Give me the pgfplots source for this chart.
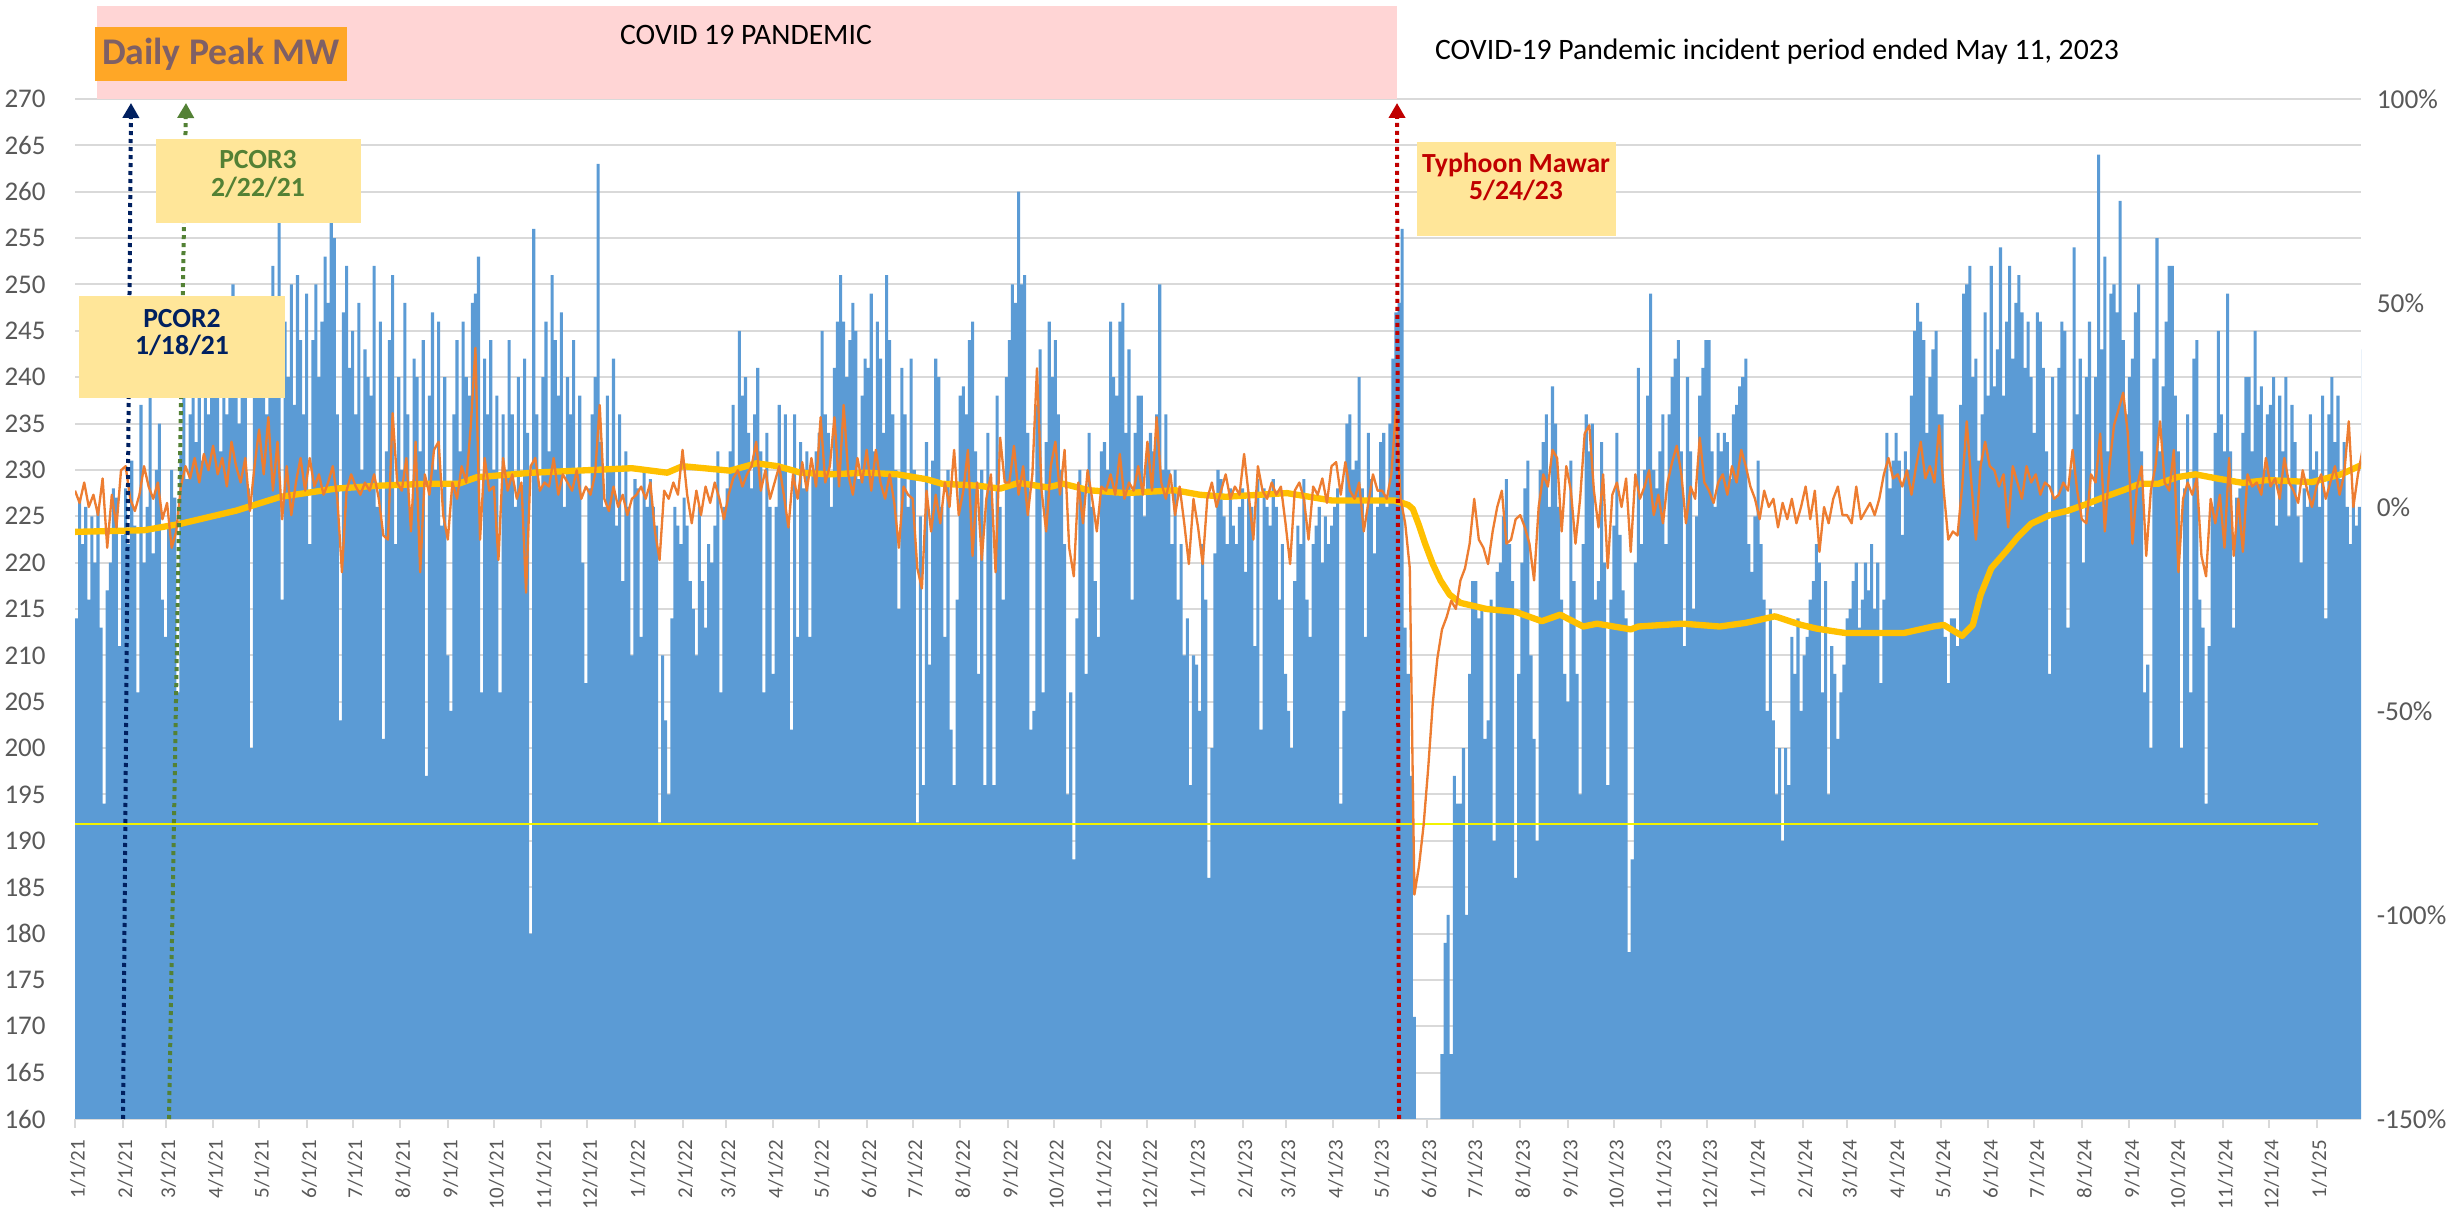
\documentclass[border=0pt]{standalone}
\usepackage{fontspec}
\setmainfont{Carlito}
\usepackage{pgfplots}
\pgfplotsset{compat=1.18}
\usetikzlibrary{arrows.meta}
\definecolor{barblue}{HTML}{5B9BD5}
\definecolor{lineorange}{HTML}{ED7D31}
\definecolor{avgyellow}{HTML}{FFC000}
\definecolor{thinyellow}{HTML}{F2F200}
\definecolor{gridgray}{HTML}{D9D9D9}
\definecolor{labelgray}{HTML}{595959}
\definecolor{pinkbg}{HTML}{FFD5D5}
\definecolor{orangebox}{HTML}{FFA726}
\definecolor{mauve}{HTML}{7F6065}
\definecolor{notebox}{HTML}{FFE699}
\definecolor{navy}{HTML}{002060}
\definecolor{dgreen}{HTML}{538135}
\definecolor{dred}{HTML}{C00000}
\begin{document}
\begin{tikzpicture}[x=1pt,y=1pt]
\path[use as bounding box] (0,0) rectangle (737.7,363);
\begin{axis}[
  at={(22.5pt,27.3pt)}, anchor=south west, scale only axis,
  width=685.8pt, height=306pt,
  xmin=0, xmax=1490, ymin=160, ymax=270,
  axis x line*=bottom, axis y line*=left,
  y axis line style={draw=none},
  x axis line style={draw=gridgray, line width=0.6pt},
  ytick={160,165,...,270}, ytick style={draw=none},
  ymajorgrids=true, major grid style={draw=gridgray, line width=0.6pt},
  xtick={0,31,59,90,120,151,181,212,243,273,304,334,365,396,424,455,485,516,546,577,608,638,669,699,730,761,789,820,850,881,911,942,973,1003,1034,1064,1095,1126,1155,1186,1216,1247,1277,1308,1339,1369,1400,1430,1461},
  xticklabels={1/1/21,2/1/21,3/1/21,4/1/21,5/1/21,6/1/21,7/1/21,8/1/21,9/1/21,10/1/21,11/1/21,12/1/21,1/1/22,2/1/22,3/1/22,4/1/22,5/1/22,6/1/22,7/1/22,8/1/22,9/1/22,10/1/22,11/1/22,12/1/22,1/1/23,2/1/23,3/1/23,4/1/23,5/1/23,6/1/23,7/1/23,8/1/23,9/1/23,10/1/23,11/1/23,12/1/23,1/1/24,2/1/24,3/1/24,4/1/24,5/1/24,6/1/24,7/1/24,8/1/24,9/1/24,10/1/24,11/1/24,12/1/24,1/1/25},
  xtick style={draw=gridgray, line width=0.6pt},
  tick align=outside, major tick length=2.7pt,
  xticklabel style={rotate=90, anchor=east, yshift=-0.8pt, font=\fontsize{6.3}{7}\selectfont, text=labelgray},
  yticklabel style={font=\fontsize{8.1}{9}\selectfont, text=labelgray, xshift=-2.6pt},
  /pgf/number format/assume math mode=true,
]
\addplot[draw=none, fill=barblue, const plot] table[row sep=\\, x expr=2*\coordindex, y=v] {v\\
214\\227\\222\\226\\216\\225\\220\\226\\213\\194\\217\\220\\228\\227\\211\\223\\
228\\222\\231\\224\\206\\237\\220\\226\\238\\221\\230\\235\\216\\212\\
224\\230\\227\\206\\232\\238\\229\\236\\240\\233\\244\\231\\240\\236\\243\\
238\\245\\232\\241\\236\\247\\250\\242\\235\\246\\240\\228\\200\\244\\238\\
241\\248\\236\\244\\252\\238\\263\\216\\246\\240\\250\\237\\251\\244\\236\\249\\
222\\244\\250\\240\\246\\253\\248\\258\\255\\236\\203\\247\\252\\241\\245\\
236\\248\\230\\243\\240\\238\\252\\226\\246\\201\\232\\244\\251\\222\\240\\
230\\248\\236\\226\\242\\240\\232\\244\\197\\238\\247\\230\\246\\224\\240\\210\\
204\\236\\244\\232\\246\\240\\238\\248\\249\\253\\206\\242\\236\\244\\230\\
238\\206\\236\\230\\244\\236\\226\\240\\228\\242\\234\\180\\256\\236\\228\\
240\\246\\232\\251\\244\\238\\247\\226\\240\\236\\244\\230\\238\\220\\207\\
228\\236\\240\\263\\233\\226\\238\\230\\242\\224\\236\\218\\232\\226\\210\\229\\
228\\212\\230\\226\\229\\226\\224\\192\\210\\203\\195\\214\\226\\224\\222\\
227\\224\\218\\215\\210\\226\\218\\213\\222\\220\\224\\232\\206\\226\\
228\\232\\237\\230\\245\\238\\240\\234\\228\\236\\241\\232\\206\\234\\226\\208\\
226\\237\\230\\236\\224\\202\\236\\212\\233\\228\\232\\212\\230\\232\\234\\
245\\236\\234\\226\\241\\246\\251\\246\\240\\244\\248\\245\\229\\238\\242\\
241\\249\\232\\246\\242\\234\\251\\244\\236\\230\\215\\241\\236\\226\\242\\
230\\192\\225\\196\\233\\209\\231\\242\\240\\226\\212\\230\\202\\196\\216\\238\\
239\\236\\244\\246\\232\\208\\230\\196\\234\\228\\196\\238\\226\\216\\240\\
244\\250\\248\\260\\250\\251\\234\\202\\204\\237\\243\\206\\233\\246\\240\\
244\\236\\230\\222\\195\\206\\188\\214\\230\\228\\208\\234\\226\\218\\212\\232\\
233\\230\\246\\240\\238\\246\\248\\234\\243\\216\\234\\238\\238\\225\\232\\
234\\232\\236\\250\\230\\236\\230\\222\\230\\216\\222\\210\\214\\196\\210\\
209\\204\\222\\216\\186\\200\\221\\230\\229\\225\\222\\228\\224\\222\\226\\228\\
219\\227\\226\\211\\229\\202\\228\\226\\224\\229\\226\\216\\222\\208\\
204\\200\\218\\224\\222\\229\\216\\212\\222\\224\\226\\220\\225\\222\\224\\
226\\228\\194\\204\\235\\236\\230\\231\\240\\228\\212\\234\\229\\221\\226\\
233\\234\\226\\235\\242\\247\\248\\256\\213\\208\\197\\171\\150\\150\\150\\150\\
150\\150\\150\\150\\167\\179\\182\\167\\197\\194\\194\\200\\182\\208\\218\\
218\\214\\215\\201\\203\\216\\190\\219\\220\\225\\229\\222\\218\\186\\208\\
220\\228\\231\\210\\201\\190\\230\\233\\236\\226\\239\\235\\226\\216\\208\\205\\
231\\218\\208\\195\\222\\236\\232\\235\\216\\218\\233\\220\\196\\216\\224\\
234\\223\\217\\214\\178\\188\\220\\241\\222\\230\\238\\249\\230\\228\\232\\
236\\222\\236\\240\\242\\244\\232\\211\\240\\232\\215\\225\\238\\241\\244\\
244\\232\\226\\234\\232\\234\\233\\229\\236\\237\\239\\240\\242\\222\\219\\225\\
231\\222\\216\\204\\215\\203\\195\\200\\190\\200\\196\\212\\208\\214\\204\\
210\\212\\216\\218\\222\\220\\206\\218\\195\\211\\208\\201\\206\\209\\214\\
215\\218\\220\\213\\216\\220\\217\\222\\215\\220\\207\\216\\234\\228\\231\\
234\\231\\223\\232\\230\\238\\245\\248\\246\\244\\234\\240\\243\\245\\236\\
236\\212\\207\\214\\214\\211\\237\\249\\250\\252\\240\\242\\231\\236\\247\\238\\
252\\239\\243\\254\\238\\246\\252\\242\\248\\251\\247\\241\\246\\240\\234\\
247\\246\\241\\232\\208\\240\\227\\241\\246\\245\\213\\230\\254\\236\\242\\
220\\240\\246\\226\\240\\264\\243\\253\\232\\249\\250\\247\\259\\244\\236\\240\\
242\\247\\250\\232\\206\\209\\200\\242\\255\\232\\239\\246\\252\\252\\238\\
232\\200\\228\\236\\206\\242\\244\\216\\213\\194\\211\\226\\234\\245\\236\\
232\\249\\232\\213\\227\\228\\234\\240\\240\\232\\245\\237\\239\\230\\236\\
237\\240\\224\\238\\232\\240\\225\\237\\233\\225\\220\\228\\226\\236\\230\\232\\
226\\238\\214\\236\\240\\233\\238\\229\\233\\226\\222\\227\\224\\226\\243\\
} \closedcycle;
\addplot[color=thinyellow, line width=0.6pt] coordinates {(0,191.8) (1462,191.8)};
\end{axis}
\begin{axis}[
  at={(22.5pt,27.3pt)}, anchor=south west, scale only axis,
  width=685.8pt, height=306pt,
  xmin=0, xmax=1490, ymin=-150, ymax=100,
  axis x line=none, axis y line*=right,
  y axis line style={draw=none},
  ytick={-150,-100,...,100}, ytick style={draw=none},
  yticklabel={\pgfmathprintnumber{\tick}\%},
  yticklabel style={font=\fontsize{8.2}{9}\selectfont, text=labelgray, xshift=1.2pt},
  /pgf/number format/assume math mode=true,
]
\addplot[color=avgyellow, line width=1.9pt, line join=round] coordinates {
(0,-6.1)(45,-5.7)(69,-4.1)(105,-0.9)(134,2.5)(170,4.5)(197,5.2)(230,5.7)(250,5.7)(262,7.3)(298,8.4)(339,9.1)(363,9.5)(386,8.4)(396,10)(427,8.9)(444,10.7)(458,10)(473,8.4)(492,8)(516,8.4)(536,8)(555,6.8)(565,5.7)(589,5.2)(603,4.5)(615,5.9)(634,4.8)(644,5.7)(661,4.1)(685,3.4)(717,4.1)(733,3)(750,2.5)(790,3.4)(819,1.6)(860,1.6)(869,0.5)(872,-0.5)(876,-4.5)(880,-9)(885,-14)(890,-18)(896,-21.5)(903,-23.5)(920,-25)(939,-25.7)(956,-28)(968,-26.4)(983,-29.3)(992,-28.6)(1014,-30)(1019,-29.3)(1048,-28.6)(1072,-29.3)(1089,-28.4)(1108,-26.8)(1125,-28.9)(1135,-29.8)(1154,-30.9)(1192,-30.9)(1211,-29.3)(1218,-28.9)(1230,-31.6)(1237,-28.9)(1242,-21.6)(1249,-15)(1259,-10.7)(1266,-7.5)(1275,-4.1)(1287,-2)(1299,-0.9)(1311,0.7)(1323,2.5)(1335,4.1)(1346,5.7)(1358,5.7)(1370,7.3)(1382,8)(1396,7)(1413,5.9)(1429,6.6)(1458,6.1)(1477,8)(1491,10.4)
};
\addplot[color=lineorange, line width=0.7pt, line join=round] table[row sep=\\, x expr=3*\coordindex, y=v] {v\\
4\\1\\6\\0\\3\\-2\\7\\-10\\3\\-5\\9\\
10\\2\\-1\\3\\10\\5\\2\\6\\-3\\
1\\-10\\-6\\5\\10\\7\\12\\6\\13\\9\\
15\\8\\12\\5\\16\\10\\6\\12\\-1\\10\\
19\\8\\22\\4\\16\\-3\\10\\-2\\6\\12\\4\\
12\\5\\8\\3\\6\\10\\2\\-16\\4\\8\\
5\\3\\6\\4\\8\\2\\-7\\-8\\23\\6\\
4\\12\\-6\\16\\-16\\8\\3\\14\\16\\-2\\
-8\\6\\2\\10\\6\\20\\39\\-8\\12\\4\\
5\\-13\\12\\4\\8\\2\\6\\-21\\10\\12\\4\\
6\\5\\12\\3\\8\\6\\4\\9\\2\\5\\
3\\8\\25\\2\\-1\\5\\0\\3\\-2\\2\\
3\\5\\2\\6\\-6\\-13\\4\\2\\6\\3\\
14\\3\\-4\\4\\-2\\5\\1\\6\\2\\-3\\
3\\7\\9\\5\\8\\10\\16\\4\\9\\2\\
6\\10\\3\\-5\\8\\2\\11\\4\\12\\5\\
22\\6\\10\\22\\5\\25\\8\\3\\12\\6\\
14\\4\\14\\6\\2\\8\\1\\-10\\5\\3\\
2\\-15\\-20\\4\\-6\\3\\-4\\6\\0\\14\\-2\\
4\\14\\-12\\6\\-13\\2\\8\\-16\\17\\6\\
6\\15\\3\\10\\-2\\8\\34\\4\\-6\\10\\
16\\3\\14\\-10\\-17\\6\\-4\\9\\2\\-6\\
5\\4\\8\\3\\13\\2\\6\\4\\10\\3\\
16\\4\\22\\6\\2\\8\\-2\\5\\-4\\-14\\2\\
-5\\-14\\2\\6\\0\\4\\8\\2\\5\\3\\
13\\3\\-8\\10\\4\\2\\6\\3\\5\\
-4\\-14\\4\\6\\2\\-8\\5\\3\\7\\1\\10\\
11\\3\\11\\4\\2\\6\\-6\\1\\8\\4\\
4\\2\\8\\24\\2\\-4\\-15\\-95\\-88\\-78\\
-64\\-48\\-37\\-30\\-27\\-23\\-25\\-18\\-15\\-9\\
2\\-8\\-10\\-14\\-6\\0\\4\\-9\\-8\\-3\\
-2\\-5\\-9\\-18\\0\\8\\5\\14\\12\\-6\\10\\
4\\-9\\2\\18\\20\\4\\-5\\8\\-15\\3\\
6\\0\\7\\-11\\8\\2\\5\\9\\-2\\3\\
-4\\6\\11\\15\\8\\-4\\5\\2\\17\\6\\
4\\1\\6\\8\\3\\10\\6\\14\\10\\5\\
2\\-3\\4\\0\\2\\-5\\1\\-3\\2\\-4\\0\\
5\\-3\\4\\-11\\0\\-4\\2\\5\\-2\\
-2\\-4\\5\\-3\\-1\\1\\-2\\2\\8\\12\\7\\
8\\5\\9\\3\\10\\16\\7\\10\\6\\20\\
4\\-8\\-6\\-7\\5\\21\\6\\-8\\10\\16\\
10\\9\\5\\8\\-5\\10\\6\\2\\10\\6\\
8\\3\\6\\5\\2\\3\\6\\4\\14\\4\\
-3\\-4\\8\\6\\18\\-6\\10\\20\\24\\28\\18\\
-9\\5\\10\\-12\\4\\10\\21\\6\\4\\14\\
-16\\2\\6\\3\\7\\-12\\-17\\2\\-4\\3\\
-10\\12\\-12\\2\\-11\\8\\5\\6\\3\\12\\
5\\7\\2\\12\\6\\4\\1\\9\\4\\0\\
5\\8\\2\\6\\10\\3\\8\\21\\0\\8\\14\\
};
\end{axis}
% annotations
\fill[pinkbg] (29.1,333.3) rectangle (419.1,361.2);
\fill[orangebox] (28.5,338.7) rectangle (104.1,354.9);
\node[font=\fontsize{11.3}{13}\selectfont\bfseries, text=mauve] at (66.3,346.8) {Daily Peak MW};
\node[font=\fontsize{8.9}{10}\selectfont] at (223.8,352.5) {COVID 19 PANDEMIC};
\node[font=\fontsize{8.9}{10}\selectfont] at (533.1,347.4) {COVID-19 Pandemic incident period ended May 11, 2023};
\draw[navy, line width=1.2pt, dash pattern=on 1.2pt off 1.2pt, -{Triangle[width=4.8pt,length=4.5pt]}] (36.9,27.3) -- (39.3,332.1);
\draw[dgreen, line width=1.2pt, dash pattern=on 1.2pt off 1.2pt, -{Triangle[width=4.8pt,length=4.5pt]}] (50.7,27.3) -- (55.8,332.1);
\draw[dred, line width=1.2pt, dash pattern=on 1.2pt off 1.2pt, -{Triangle[width=4.8pt,length=4.5pt]}] (419.7,27.3) -- (419.1,332.1);
\fill[notebox] (46.8,296.1) rectangle (108.3,321.3);
\node[align=center, font=\fontsize{8.3}{8.3}\selectfont\bfseries, text=dgreen] at (77.4,310.8) {PCOR3\\2/22/21};
\fill[notebox] (23.7,243.6) rectangle (85.5,274.2);
\node[align=center, font=\fontsize{8.3}{8}\selectfont\bfseries, text=navy] at (54.6,263.2) {PCOR2\\1/18/21};
\fill[notebox] (425.1,292.2) rectangle (484.8,320.4);
\node[align=center, font=\fontsize{8.3}{8.2}\selectfont\bfseries, text=dred] at (454.8,310.0) {Typhoon Mawar\\5/24/23};
\end{tikzpicture}
\end{document}
